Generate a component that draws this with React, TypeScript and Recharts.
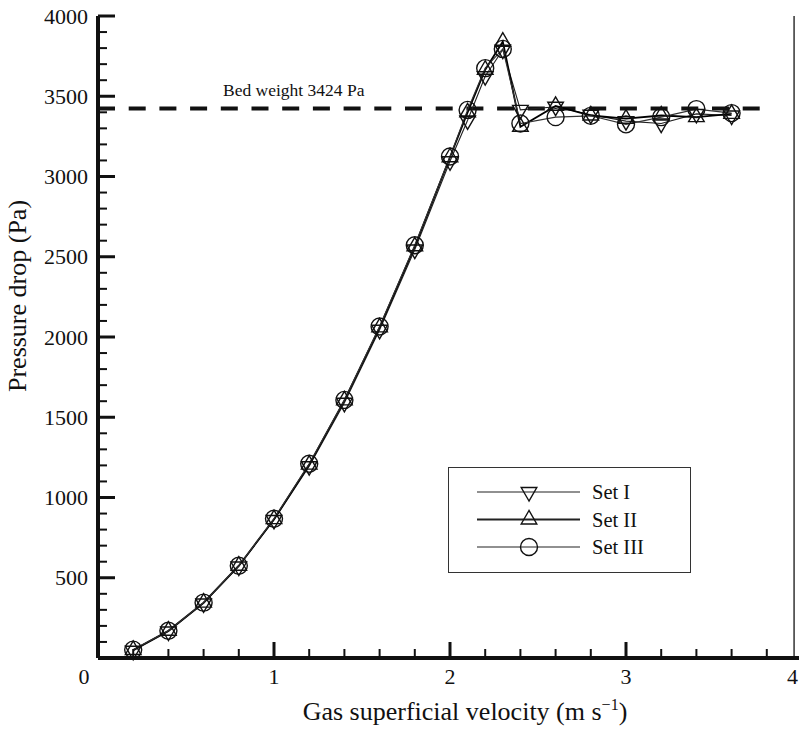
import React from "react";
import { LineChart, Line, XAxis, YAxis, ReferenceLine, Legend, Label } from "recharts";

// gas superficial velocity (m/s)
const velocity = [0.2, 0.4, 0.6, 0.8, 1.0, 1.2, 1.4, 1.6, 1.8, 2.0, 2.1, 2.2, 2.3, 2.4, 2.6, 2.8, 3.0, 3.2, 3.4, 3.6];
// pressure drop (Pa)
const setI = [45, 165, 340, 570, 860, 1195, 1590, 2045, 2545, 3095, 3350, 3625, 3790, 3415, 3435, 3385, 3345, 3330, 3390, 3380];
const setII = [50, 170, 345, 575, 865, 1205, 1605, 2060, 2565, 3120, 3400, 3665, 3840, 3310, 3440, 3380, 3360, 3380, 3370, 3390];
const setIII = [52, 170, 345, 575, 868, 1210, 1608, 2065, 2572, 3125, 3415, 3675, 3795, 3330, 3370, 3378, 3325, 3370, 3420, 3395];

const seriesNames = ["Set I", "Set II", "Set III"];

const xTicks = [0, 0.2, 0.4, 0.6, 0.8, 1, 1.2, 1.4, 1.6, 1.8, 2, 2.2, 2.4, 2.6, 2.8, 3, 3.2, 3.4, 3.6, 3.8, 4];
const xLabels = [0, 1, 2, 3, 4];
const yTicks = [
  0, 100, 200, 300, 400, 500, 600, 700, 800, 900, 1000, 1100, 1200, 1300, 1400, 1500, 1600, 1700, 1800, 1900, 2000,
  2100, 2200, 2300, 2400, 2500, 2600, 2700, 2800, 2900, 3000, 3100, 3200, 3300, 3400, 3500, 3600, 3700, 3800, 3900, 4000,
];
const yLabels = [500, 1000, 1500, 2000, 2500, 3000, 3500, 4000];

const bedWeight = 3424;
const bedWeightEnd = 3.76;
const frameRight = 3.955;

const data = velocity.map((v, i) => ({ v, s1: setI[i], s2: setII[i], s3: setIII[i] }));

const FONT = '"Liberation Serif", "Times New Roman", serif';

const Marker = ({ shape, cx, cy }: any) => {
  const r = 9;
  const hw = 7.8;
  if (shape === "circle") {
    return <circle cx={cx} cy={cy} r={8.5} fill="none" stroke="#111" strokeWidth={1.4} />;
  }
  const pts =
    shape === "up"
      ? `${cx},${cy - r} ${cx - hw},${cy + r / 2} ${cx + hw},${cy + r / 2}`
      : `${cx},${cy + r} ${cx - hw},${cy - r / 2} ${cx + hw},${cy - r / 2}`;
  return <polygon points={pts} fill="none" stroke="#111" strokeWidth={1.4} />;
};

const makeDot = (shape: string) => (props: any) => {
  const { cx, cy, index } = props;
  if (cx == null || cy == null) return <g key={`${shape}-${index}`} />;
  return <Marker key={`${shape}-${index}`} shape={shape} cx={cx} cy={cy} />;
};

const XTick = ({ x, y, payload }: any) => {
  const v = payload.value;
  const major = xLabels.includes(v);
  // the first and last labels sit off their ticks, as in the figure
  let tx = x;
  let anchor = "middle";
  if (v === 0) tx = x - 14;
  if (v === 4) {
    tx = 798;
    anchor = "end";
  }
  return (
    <g>
      <line x1={x} x2={x} y1={y} y2={y - (major ? 16 : 9)} stroke="#111" strokeWidth={major ? 3 : 2} />
      {major && (
        <text x={tx} y={y + 26} textAnchor={anchor} fontFamily={FONT} fontSize={22} fill="#111">
          {v}
        </text>
      )}
    </g>
  );
};

const YTick = ({ x, y, payload }: any) => {
  const v = payload.value;
  const major = v % 500 === 0;
  return (
    <g>
      <line x1={x} x2={x + (major ? 17 : 9)} y1={y} y2={y} stroke="#111" strokeWidth={major ? 3 : 2} />
      {yLabels.includes(v) && (
        <text x={x - 10} y={y} dy="0.35em" textAnchor="end" fontFamily={FONT} fontSize={22} fill="#111">
          {v}
        </text>
      )}
    </g>
  );
};

const XTitle = ({ viewBox }: any) => (
  <text
    x={viewBox.x + viewBox.width / 2 + 15}
    y={viewBox.y + 62}
    textAnchor="middle"
    fontFamily={FONT}
    fontSize={26}
    fill="#111"
  >
    Gas superficial velocity (m s
    <tspan dy={-10} fontSize={16}>−1</tspan>
    <tspan dy={10}>)</tspan>
  </text>
);

const YTitle = ({ viewBox }: any) => {
  const cx = viewBox.x + 17;
  const cy = viewBox.y + viewBox.height / 2 - 41;
  return (
    <text
      x={cx}
      y={cy}
      transform={`rotate(-90 ${cx} ${cy})`}
      textAnchor="middle"
      dominantBaseline="central"
      fontFamily={FONT}
      fontSize={26}
      fill="#111"
    >
      Pressure drop (Pa)
    </text>
  );
};

const BedLabel = ({ viewBox }: any) => (
  <text x={viewBox.x + 125} y={viewBox.y - 12} fontFamily={FONT} fontSize={17.5} fill="#111">
    Bed weight 3424 Pa
  </text>
);

const legendShapes = ["down", "up", "circle"];
const legendWidths = [1.1, 1.8, 1.1];

const LegendBox = () => (
  <div
    style={{
      width: 243,
      height: 106,
      border: "1.5px solid #333",
      boxSizing: "border-box",
      background: "#fff",
    }}
  >
    <svg width={240} height={103} style={{ display: "block" }}>
      {seriesNames.map((name, i) => {
        const y = 24 + i * 27.5;
        return (
          <g key={name}>
            <line x1={28} x2={131} y1={y} y2={y} stroke="#222" strokeWidth={legendWidths[i]} />
            <Marker shape={legendShapes[i]} cx={80} cy={y} />
            <text x={143} y={y + 7} fontFamily={FONT} fontSize={20.5} fill="#111">
              {name}
            </text>
          </g>
        );
      })}
    </svg>
  </div>
);

export default function App() {
  return (
    <div
      style={{
        position: "absolute",
        left: 0,
        top: 0,
        width: 799,
        height: 729,
        overflow: "hidden",
        background: "#fff",
      }}
    >
      <LineChart width={830} height={729} data={data} margin={{ top: 16, right: 28, bottom: 0, left: 0 }}>
        <XAxis
          dataKey="v"
          type="number"
          domain={[0, 4]}
          ticks={xTicks}
          interval={0}
          tick={<XTick />}
          tickLine={false}
          tickSize={0}
          tickMargin={0}
          axisLine={{ stroke: "#111", strokeWidth: 4 }}
          height={71}
        >
          <Label content={<XTitle />} />
        </XAxis>
        <XAxis
          xAxisId="top"
          orientation="top"
          type="number"
          domain={[0, 4]}
          height={0}
          tick={false}
          tickLine={false}
          axisLine={{ stroke: "#111", strokeWidth: 4 }}
        />
        <YAxis
          type="number"
          domain={[0, 4000]}
          ticks={yTicks}
          interval={0}
          tick={<YTick />}
          tickLine={false}
          tickSize={0}
          tickMargin={0}
          axisLine={{ stroke: "#111", strokeWidth: 4 }}
          width={98}
        >
          <Label content={<YTitle />} />
        </YAxis>
        <ReferenceLine x={frameRight} stroke="#333" strokeWidth={1.5} />
        <ReferenceLine
          segment={[
            { x: 0, y: bedWeight },
            { x: bedWeightEnd, y: bedWeight },
          ]}
          stroke="#111"
          strokeWidth={4}
          strokeDasharray="17 13.7"
          label={<BedLabel />}
        />
        <Line
          name={seriesNames[0]}
          dataKey="s1"
          type="linear"
          stroke="#222"
          strokeWidth={1.1}
          dot={makeDot("down")}
          activeDot={false}
          isAnimationActive={false}
        />
        <Line
          name={seriesNames[1]}
          dataKey="s2"
          type="linear"
          stroke="#000"
          strokeWidth={1.8}
          dot={makeDot("up")}
          activeDot={false}
          isAnimationActive={false}
        />
        <Line
          name={seriesNames[2]}
          dataKey="s3"
          type="linear"
          stroke="#333"
          strokeWidth={1.1}
          dot={makeDot("circle")}
          activeDot={false}
          isAnimationActive={false}
        />
        <Legend
          layout="vertical"
          align="center"
          verticalAlign="middle"
          content={<LegendBox />}
          wrapperStyle={{ left: 448, top: 467, width: 243, height: 106 }}
        />
      </LineChart>
    </div>
  );
}
